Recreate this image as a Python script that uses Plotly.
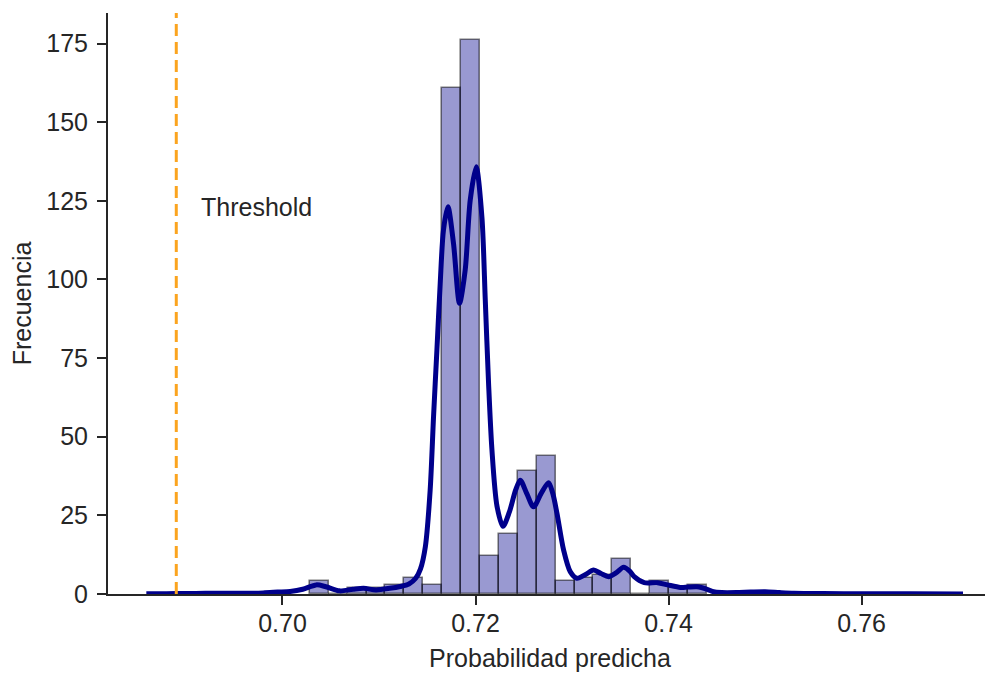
import plotly.graph_objects as go

# ---- data ----
bin_start = 0.70283
bin_width = 0.001959
bin_counts = [4, 0, 2, 2, 3, 5, 3, 161, 176, 12, 19, 39, 44, 4, 5, 6, 11, 0, 4, 2, 3]

kde_x = [0.6859, 0.6880, 0.6900, 0.6920, 0.6940, 0.6960, 0.6980, 0.6995, 0.7008, 0.7021,
         0.7035, 0.7045, 0.7059, 0.7073, 0.7084, 0.7097, 0.7111, 0.7122, 0.7131, 0.7138,
         0.7143, 0.7148, 0.7153, 0.71565, 0.7160, 0.71634, 0.71668, 0.71714, 0.71772, 0.71834,
         0.71893, 0.71945, 0.72007, 0.72066, 0.72101, 0.72135, 0.7217, 0.72222, 0.72284, 0.7235,
         0.72415, 0.72463, 0.7253, 0.72601, 0.7268, 0.72757, 0.7280, 0.72844, 0.72912, 0.72981,
         0.7305, 0.7314, 0.73223, 0.7330, 0.73378, 0.7346, 0.73534, 0.7360, 0.73644, 0.73748,
         0.73886, 0.7399, 0.74122, 0.7420, 0.74295, 0.7440, 0.74466, 0.7455, 0.7470, 0.7485,
         0.7500, 0.7515, 0.7530, 0.7560, 0.7600, 0.7650, 0.7705]
kde_y = [0.05, 0.1, 0.15, 0.2, 0.25, 0.2, 0.35, 0.6, 0.8, 1.5,
         2.9, 2.3, 1.0, 1.5, 1.8, 1.3, 1.8, 2.4, 3.2, 5.0,
         8.0, 15.0, 33.0, 56.3, 77.5, 98.7, 115.7, 123.1, 111.4, 92.4,
         103.0, 125.2, 135.8, 119.9, 93.4, 67.0, 45.8, 28.0, 21.5, 26.0,
         33.0, 36.2, 32.0, 27.7, 32.0, 35.4, 32.0, 25.6, 14.0, 7.1,
         5.0, 6.2, 7.6, 6.5, 5.5, 6.8, 8.5, 7.2, 5.5, 3.6,
         3.6, 2.9, 2.1, 2.2, 2.3, 1.5, 0.7, 0.45, 0.45, 0.6,
         0.7, 0.45, 0.25, 0.15, 0.1, 0.05, 0.02]

threshold = 0.689
threshold_label = "Threshold"
x_ticks = [0.70, 0.72, 0.74, 0.76]
x_ticktext = ["0.70", "0.72", "0.74", "0.76"]
y_ticks = [0, 25, 50, 75, 100, 125, 150, 175]
x_title = "Probabilidad predicha"
y_title = "Frecuencia"

# ---- figure ----
bin_centers = [bin_start + (i + 0.5) * bin_width for i in range(len(bin_counts))]

FONT = "Liberation Sans, Arial, sans-serif"
INK = "#262626"

fig = go.Figure()
fig.add_trace(go.Bar(
    x=bin_centers, y=bin_counts, width=bin_width,
    marker=dict(color="rgba(0,0,139,0.4)", line=dict(color="rgba(0,0,0,0.5)", width=1.6)),
    showlegend=False, hoverinfo="x+y",
))
fig.add_trace(go.Scatter(
    x=kde_x, y=kde_y, mode="lines",
    line=dict(color="#00008B", width=5, shape="spline", smoothing=0.8),
    showlegend=False,
))

fig.add_shape(type="line", xref="x", yref="paper", x0=threshold, x1=threshold, y0=0, y1=1,
              line=dict(color="#FBA41F", width=3, dash="12px,6px"))
fig.add_annotation(x=threshold + 0.00235, y=123, xref="x", yref="y", text=threshold_label,
                   showarrow=False, xanchor="left", yanchor="middle",
                   font=dict(family=FONT, size=25, color=INK))

axis_common = dict(
    showline=True, linecolor=INK, linewidth=2,
    ticks="outside", ticklen=9, tickwidth=2, tickcolor=INK,
    showgrid=False, zeroline=False,
    tickfont=dict(family=FONT, size=25, color=INK),
)

# the page body has an 8px margin: the figure is sized and padded so that the
# plot area lands where the reference has it
fig.update_layout(
    width=985, height=665,
    margin=dict(l=100, r=1, t=5, b=79, autoexpand=False),
    plot_bgcolor="white", paper_bgcolor="white",
    bargap=0,
    font=dict(family=FONT, size=25, color=INK),
    xaxis=dict(range=[0.681927, 0.773503], tickvals=x_ticks, ticktext=x_ticktext,
               ticklabelstandoff=-3,
               title=dict(text=x_title, font=dict(family=FONT, size=25, color=INK), standoff=13),
               automargin=False, **axis_common),
    yaxis=dict(range=[0, 184.7], tickvals=y_ticks, ticklabelstandoff=4,
               title=dict(text=y_title, font=dict(family=FONT, size=25, color=INK), standoff=8),
               automargin=False, **axis_common),
)

fig.write_html("out.html")
